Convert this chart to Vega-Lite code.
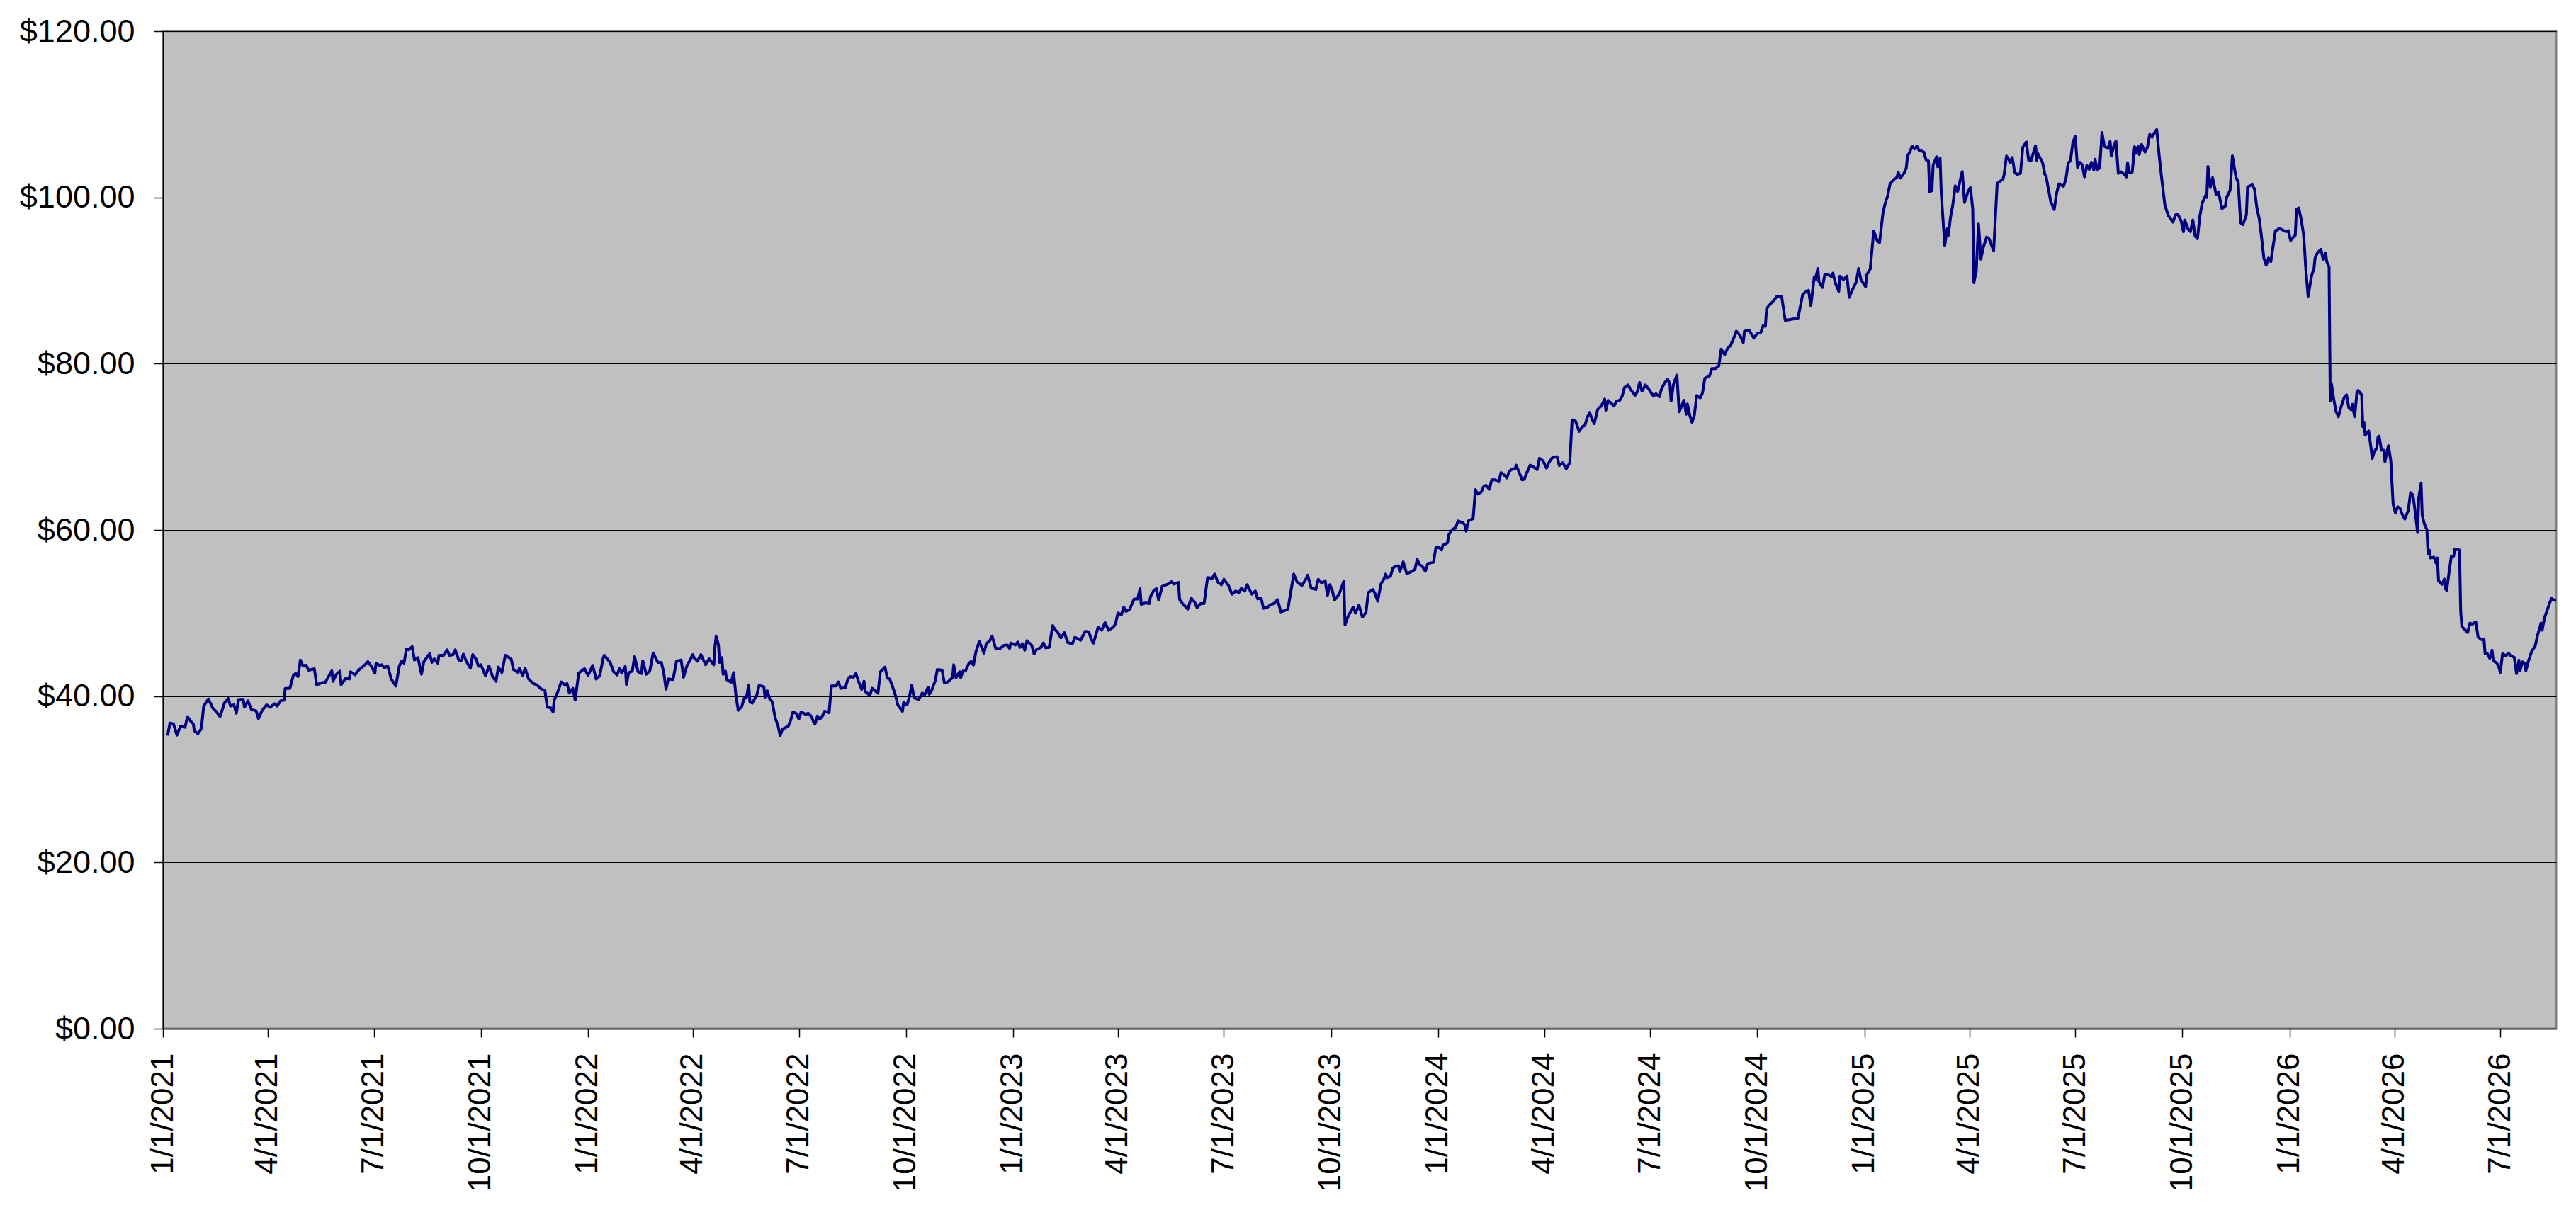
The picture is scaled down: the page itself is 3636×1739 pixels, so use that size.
{
"$schema":"https://vega.github.io/schema/vega-lite/v6.json",
"width":3378,"height":1408,
"autosize":{"type":"none"},
"padding":{"left":230,"top":44,"right":28,"bottom":287},
"background":"white",
"config":{"view":{"fill":"#C0C0C0","stroke":"#808080","strokeWidth":3},"font":"Liberation Sans"},
"data":{"values":[
{"d":"2021-01-05","v":35.25},{"d":"2021-01-07","v":36.76},{"d":"2021-01-10","v":36.68},{"d":"2021-01-13","v":35.31},{"d":"2021-01-16","v":36.39},{"d":"2021-01-20","v":36.25},{"d":"2021-01-22","v":37.53},{"d":"2021-01-25","v":36.96},{"d":"2021-01-27","v":36.68},{"d":"2021-01-28","v":35.82},{"d":"2021-01-31","v":35.48},
{"d":"2021-02-03","v":36.11},{"d":"2021-02-05","v":38.81},{"d":"2021-02-09","v":39.66},{"d":"2021-02-13","v":38.52},{"d":"2021-02-16","v":38.10},{"d":"2021-02-19","v":37.53},{"d":"2021-02-23","v":39.23},{"d":"2021-02-26","v":39.72},{"d":"2021-02-28","v":38.81},
{"d":"2021-03-03","v":38.95},{"d":"2021-03-05","v":37.95},{"d":"2021-03-07","v":39.60},{"d":"2021-03-11","v":39.60},{"d":"2021-03-12","v":38.66},{"d":"2021-03-15","v":39.43},{"d":"2021-03-18","v":38.38},{"d":"2021-03-22","v":38.24},{"d":"2021-03-24","v":37.30},{"d":"2021-03-27","v":38.24},{"d":"2021-03-31","v":38.95},
{"d":"2021-04-03","v":38.66},{"d":"2021-04-07","v":39.09},{"d":"2021-04-09","v":38.81},{"d":"2021-04-12","v":39.43},{"d":"2021-04-15","v":39.52},{"d":"2021-04-16","v":40.94},{"d":"2021-04-20","v":40.94},{"d":"2021-04-23","v":42.50},{"d":"2021-04-25","v":42.73},{"d":"2021-04-27","v":42.36},{"d":"2021-04-29","v":44.35},
{"d":"2021-05-01","v":43.69},{"d":"2021-05-04","v":43.72},{"d":"2021-05-06","v":43.13},{"d":"2021-05-11","v":43.30},{"d":"2021-05-13","v":41.36},{"d":"2021-05-18","v":41.65},{"d":"2021-05-20","v":41.59},{"d":"2021-05-23","v":42.30},{"d":"2021-05-26","v":43.07},{"d":"2021-05-27","v":41.79},{"d":"2021-05-30","v":42.64},
{"d":"2021-06-02","v":43.01},{"d":"2021-06-03","v":41.36},{"d":"2021-06-07","v":42.16},{"d":"2021-06-10","v":42.07},{"d":"2021-06-11","v":42.93},{"d":"2021-06-15","v":42.56},{"d":"2021-06-18","v":43.13},{"d":"2021-06-20","v":43.35},{"d":"2021-06-24","v":43.86},{"d":"2021-06-26","v":44.15},{"d":"2021-06-29","v":43.58},
{"d":"2021-07-02","v":42.78},{"d":"2021-07-03","v":43.98},{"d":"2021-07-06","v":43.69},{"d":"2021-07-08","v":43.78},{"d":"2021-07-10","v":43.41},{"d":"2021-07-13","v":43.64},{"d":"2021-07-16","v":42.07},{"d":"2021-07-20","v":41.22},{"d":"2021-07-23","v":43.64},{"d":"2021-07-25","v":44.21},{"d":"2021-07-27","v":43.98},{"d":"2021-07-29","v":45.63},{"d":"2021-07-31","v":45.57},
{"d":"2021-08-03","v":45.97},{"d":"2021-08-05","v":44.35},{"d":"2021-08-08","v":44.63},{"d":"2021-08-11","v":42.64},{"d":"2021-08-13","v":44.15},{"d":"2021-08-18","v":45.12},{"d":"2021-08-20","v":44.06},{"d":"2021-08-22","v":44.49},{"d":"2021-08-25","v":43.98},{"d":"2021-08-26","v":44.92},{"d":"2021-08-30","v":44.92},
{"d":"2021-09-02","v":45.57},{"d":"2021-09-04","v":44.92},{"d":"2021-09-07","v":44.97},{"d":"2021-09-09","v":45.57},{"d":"2021-09-12","v":44.35},{"d":"2021-09-14","v":44.26},{"d":"2021-09-16","v":45.06},{"d":"2021-09-18","v":44.35},{"d":"2021-09-22","v":43.35},{"d":"2021-09-24","v":45.00},{"d":"2021-09-27","v":44.43},{"d":"2021-09-29","v":43.58},
{"d":"2021-10-01","v":43.78},{"d":"2021-10-05","v":42.44},{"d":"2021-10-08","v":43.64},{"d":"2021-10-11","v":42.36},{"d":"2021-10-14","v":41.79},{"d":"2021-10-16","v":43.50},{"d":"2021-10-19","v":42.84},{"d":"2021-10-22","v":44.92},{"d":"2021-10-27","v":44.49},{"d":"2021-10-29","v":43.21},
{"d":"2021-11-02","v":42.84},{"d":"2021-11-03","v":43.35},{"d":"2021-11-06","v":42.50},{"d":"2021-11-08","v":43.35},{"d":"2021-11-11","v":42.07},{"d":"2021-11-15","v":41.51},{"d":"2021-11-18","v":41.36},{"d":"2021-11-21","v":40.94},{"d":"2021-11-25","v":40.65},{"d":"2021-11-27","v":38.66},{"d":"2021-11-30","v":38.58},
{"d":"2021-12-02","v":38.10},{"d":"2021-12-03","v":39.52},{"d":"2021-12-06","v":40.51},{"d":"2021-12-09","v":41.71},{"d":"2021-12-12","v":41.36},{"d":"2021-12-14","v":41.51},{"d":"2021-12-16","v":40.37},{"d":"2021-12-19","v":40.94},{"d":"2021-12-21","v":39.52},{"d":"2021-12-24","v":42.78},{"d":"2021-12-29","v":43.30},
{"d":"2022-01-01","v":42.50},{"d":"2022-01-05","v":43.69},{"d":"2022-01-08","v":42.07},{"d":"2022-01-11","v":42.44},{"d":"2022-01-14","v":44.55},{"d":"2022-01-15","v":44.92},{"d":"2022-01-20","v":44.06},{"d":"2022-01-23","v":42.93},{"d":"2022-01-26","v":42.56},{"d":"2022-01-28","v":43.30},{"d":"2022-01-30","v":42.78},
{"d":"2022-02-02","v":43.58},{"d":"2022-02-03","v":41.42},{"d":"2022-02-05","v":42.84},{"d":"2022-02-08","v":43.01},{"d":"2022-02-10","v":44.77},{"d":"2022-02-13","v":42.93},{"d":"2022-02-16","v":42.73},{"d":"2022-02-17","v":44.26},{"d":"2022-02-20","v":42.64},{"d":"2022-02-23","v":43.01},{"d":"2022-02-26","v":45.20},
{"d":"2022-03-02","v":44.06},{"d":"2022-03-05","v":44.06},{"d":"2022-03-07","v":42.84},{"d":"2022-03-09","v":40.85},{"d":"2022-03-11","v":42.07},{"d":"2022-03-15","v":41.99},{"d":"2022-03-18","v":44.21},{"d":"2022-03-22","v":44.35},{"d":"2022-03-24","v":42.27},{"d":"2022-03-27","v":43.69},{"d":"2022-03-30","v":44.43},
{"d":"2022-04-01","v":45.00},{"d":"2022-04-02","v":44.63},{"d":"2022-04-05","v":44.21},{"d":"2022-04-08","v":45.00},{"d":"2022-04-12","v":43.78},{"d":"2022-04-15","v":44.49},{"d":"2022-04-19","v":43.78},{"d":"2022-04-20","v":45.91},{"d":"2022-04-21","v":47.19},{"d":"2022-04-23","v":46.19},{"d":"2022-04-24","v":44.06},{"d":"2022-04-26","v":44.63},{"d":"2022-04-27","v":42.64},{"d":"2022-04-29","v":43.01},{"d":"2022-04-30","v":41.99},
{"d":"2022-05-04","v":41.65},{"d":"2022-05-06","v":42.84},{"d":"2022-05-08","v":40.09},{"d":"2022-05-10","v":38.29},{"d":"2022-05-13","v":38.75},{"d":"2022-05-15","v":39.72},{"d":"2022-05-17","v":39.80},{"d":"2022-05-19","v":41.36},{"d":"2022-05-20","v":39.32},{"d":"2022-05-22","v":39.15},{"d":"2022-05-26","v":40.17},{"d":"2022-05-28","v":41.31},
{"d":"2022-06-01","v":41.14},{"d":"2022-06-02","v":39.89},{"d":"2022-06-04","v":40.65},{"d":"2022-06-06","v":39.66},{"d":"2022-06-08","v":39.37},{"d":"2022-06-11","v":37.24},{"d":"2022-06-13","v":36.53},{"d":"2022-06-15","v":35.25},{"d":"2022-06-17","v":36.02},{"d":"2022-06-22","v":36.39},{"d":"2022-06-24","v":37.10},{"d":"2022-06-26","v":38.10},{"d":"2022-06-29","v":37.90},
{"d":"2022-07-01","v":37.24},{"d":"2022-07-03","v":38.10},{"d":"2022-07-07","v":37.81},{"d":"2022-07-09","v":37.95},{"d":"2022-07-12","v":37.53},{"d":"2022-07-14","v":36.76},{"d":"2022-07-15","v":36.68},{"d":"2022-07-17","v":37.61},{"d":"2022-07-19","v":37.24},{"d":"2022-07-21","v":37.53},{"d":"2022-07-23","v":38.18},{"d":"2022-07-27","v":38.01},{"d":"2022-07-29","v":41.22},
{"d":"2022-08-02","v":41.22},{"d":"2022-08-04","v":41.71},{"d":"2022-08-06","v":40.94},{"d":"2022-08-10","v":41.02},{"d":"2022-08-12","v":41.99},{"d":"2022-08-14","v":42.36},{"d":"2022-08-17","v":42.27},{"d":"2022-08-19","v":42.73},{"d":"2022-08-21","v":41.88},{"d":"2022-08-24","v":40.80},{"d":"2022-08-26","v":41.79},{"d":"2022-08-27","v":40.57},{"d":"2022-08-31","v":40.09},
{"d":"2022-09-02","v":40.94},{"d":"2022-09-07","v":40.37},{"d":"2022-09-09","v":42.93},{"d":"2022-09-13","v":43.50},{"d":"2022-09-15","v":42.16},{"d":"2022-09-17","v":42.07},{"d":"2022-09-19","v":41.36},{"d":"2022-09-22","v":40.09},{"d":"2022-09-24","v":38.95},{"d":"2022-09-28","v":38.18},{"d":"2022-09-29","v":39.23},
{"d":"2022-10-02","v":38.95},{"d":"2022-10-04","v":39.94},{"d":"2022-10-06","v":41.31},{"d":"2022-10-08","v":39.80},{"d":"2022-10-12","v":39.60},{"d":"2022-10-15","v":40.37},{"d":"2022-10-17","v":40.17},{"d":"2022-10-20","v":41.08},{"d":"2022-10-21","v":40.23},{"d":"2022-10-23","v":40.65},{"d":"2022-10-26","v":41.79},{"d":"2022-10-28","v":43.21},
{"d":"2022-11-01","v":43.13},{"d":"2022-11-03","v":41.59},{"d":"2022-11-06","v":41.71},{"d":"2022-11-08","v":41.99},{"d":"2022-11-10","v":42.22},{"d":"2022-11-11","v":43.78},{"d":"2022-11-13","v":42.22},{"d":"2022-11-16","v":42.93},{"d":"2022-11-17","v":42.22},{"d":"2022-11-19","v":43.01},{"d":"2022-11-21","v":43.01},{"d":"2022-11-24","v":43.92},{"d":"2022-11-26","v":44.21},{"d":"2022-11-28","v":43.75},{"d":"2022-11-30","v":45.31},
{"d":"2022-12-03","v":46.59},{"d":"2022-12-05","v":45.88},{"d":"2022-12-07","v":45.17},{"d":"2022-12-09","v":46.31},{"d":"2022-12-12","v":46.68},{"d":"2022-12-14","v":47.24},{"d":"2022-12-17","v":45.74},{"d":"2022-12-21","v":45.74},{"d":"2022-12-24","v":46.11},{"d":"2022-12-27","v":46.16},{"d":"2022-12-29","v":45.74},{"d":"2022-12-30","v":46.39},
{"d":"2023-01-03","v":46.16},{"d":"2023-01-05","v":46.51},{"d":"2023-01-07","v":45.88},{"d":"2023-01-09","v":46.31},{"d":"2023-01-11","v":45.54},{"d":"2023-01-13","v":46.68},{"d":"2023-01-17","v":46.11},{"d":"2023-01-19","v":45.09},{"d":"2023-01-21","v":45.60},{"d":"2023-01-25","v":45.88},{"d":"2023-01-27","v":46.39},{"d":"2023-01-29","v":45.82},
{"d":"2023-02-01","v":45.88},{"d":"2023-02-04","v":48.49},{"d":"2023-02-06","v":48.01},{"d":"2023-02-08","v":47.73},{"d":"2023-02-11","v":47.02},{"d":"2023-02-14","v":47.64},{"d":"2023-02-17","v":46.45},{"d":"2023-02-21","v":46.31},{"d":"2023-02-23","v":47.07},{"d":"2023-02-25","v":46.96},{"d":"2023-02-28","v":46.73},
{"d":"2023-03-04","v":47.81},{"d":"2023-03-07","v":47.73},{"d":"2023-03-09","v":46.88},{"d":"2023-03-11","v":46.39},{"d":"2023-03-15","v":48.30},{"d":"2023-03-18","v":47.93},{"d":"2023-03-21","v":48.86},{"d":"2023-03-24","v":47.93},{"d":"2023-03-28","v":48.30},{"d":"2023-03-30","v":48.72},
{"d":"2023-04-01","v":50.00},{"d":"2023-04-04","v":49.80},{"d":"2023-04-06","v":50.71},{"d":"2023-04-08","v":50.20},{"d":"2023-04-11","v":50.43},{"d":"2023-04-15","v":51.70},{"d":"2023-04-18","v":51.70},{"d":"2023-04-20","v":52.93},{"d":"2023-04-21","v":51.05},{"d":"2023-04-25","v":51.22},{"d":"2023-04-28","v":51.14},{"d":"2023-04-29","v":51.99},
{"d":"2023-05-02","v":52.76},{"d":"2023-05-04","v":52.93},{"d":"2023-05-06","v":51.56},{"d":"2023-05-09","v":53.21},{"d":"2023-05-14","v":53.49},{"d":"2023-05-17","v":53.78},{"d":"2023-05-19","v":53.49},{"d":"2023-05-23","v":53.69},{"d":"2023-05-24","v":51.62},{"d":"2023-05-27","v":51.05},{"d":"2023-05-31","v":50.48},
{"d":"2023-06-03","v":51.79},{"d":"2023-06-06","v":51.28},{"d":"2023-06-08","v":50.65},{"d":"2023-06-11","v":51.14},{"d":"2023-06-14","v":51.14},{"d":"2023-06-17","v":54.26},{"d":"2023-06-21","v":54.18},{"d":"2023-06-23","v":54.69},{"d":"2023-06-26","v":53.69},{"d":"2023-06-29","v":53.41},
{"d":"2023-07-01","v":54.06},{"d":"2023-07-05","v":53.32},{"d":"2023-07-08","v":52.27},{"d":"2023-07-11","v":52.64},{"d":"2023-07-14","v":52.47},{"d":"2023-07-16","v":52.98},{"d":"2023-07-19","v":52.64},{"d":"2023-07-21","v":53.41},{"d":"2023-07-25","v":52.27},{"d":"2023-07-28","v":52.64},{"d":"2023-07-30","v":51.70},
{"d":"2023-08-02","v":51.79},{"d":"2023-08-04","v":50.57},{"d":"2023-08-07","v":50.65},{"d":"2023-08-10","v":51.00},{"d":"2023-08-13","v":51.14},{"d":"2023-08-16","v":51.62},{"d":"2023-08-19","v":50.14},{"d":"2023-08-22","v":50.28},{"d":"2023-08-25","v":50.48},{"d":"2023-08-30","v":54.69},
{"d":"2023-09-02","v":53.69},{"d":"2023-09-06","v":53.32},{"d":"2023-09-09","v":53.98},{"d":"2023-09-11","v":54.55},{"d":"2023-09-14","v":52.98},{"d":"2023-09-18","v":52.84},{"d":"2023-09-20","v":54.06},{"d":"2023-09-23","v":53.61},{"d":"2023-09-26","v":53.89},{"d":"2023-09-28","v":52.13},{"d":"2023-09-30","v":53.41},
{"d":"2023-10-02","v":52.76},{"d":"2023-10-04","v":51.56},{"d":"2023-10-08","v":52.27},{"d":"2023-10-12","v":53.84},{"d":"2023-10-13","v":48.58},{"d":"2023-10-16","v":49.72},{"d":"2023-10-20","v":50.71},{"d":"2023-10-22","v":50.00},{"d":"2023-10-25","v":50.94},{"d":"2023-10-28","v":49.51},{"d":"2023-10-31","v":50.08},
{"d":"2023-11-02","v":52.47},{"d":"2023-11-06","v":52.84},{"d":"2023-11-08","v":52.27},{"d":"2023-11-10","v":51.42},{"d":"2023-11-13","v":53.55},{"d":"2023-11-15","v":53.98},{"d":"2023-11-17","v":54.69},{"d":"2023-11-18","v":54.26},{"d":"2023-11-21","v":54.40},{"d":"2023-11-23","v":55.40},{"d":"2023-11-26","v":55.68},{"d":"2023-11-28","v":55.68},{"d":"2023-11-29","v":54.97},
{"d":"2023-12-02","v":56.16},{"d":"2023-12-05","v":54.74},{"d":"2023-12-08","v":54.91},{"d":"2023-12-12","v":55.25},{"d":"2023-12-14","v":56.45},{"d":"2023-12-16","v":55.82},{"d":"2023-12-18","v":55.68},{"d":"2023-12-21","v":55.03},{"d":"2023-12-23","v":55.96},{"d":"2023-12-28","v":56.11},{"d":"2023-12-30","v":57.87},
{"d":"2024-01-02","v":57.87},{"d":"2024-01-04","v":57.58},{"d":"2024-01-05","v":58.15},{"d":"2024-01-09","v":58.44},{"d":"2024-01-10","v":59.37},{"d":"2024-01-12","v":59.86},{"d":"2024-01-14","v":60.14},{"d":"2024-01-16","v":60.23},{"d":"2024-01-18","v":61.08},{"d":"2024-01-22","v":60.88},{"d":"2024-01-24","v":60.60},{"d":"2024-01-25","v":59.86},{"d":"2024-01-27","v":61.08},{"d":"2024-01-31","v":61.36},
{"d":"2024-02-02","v":64.85},{"d":"2024-02-04","v":64.32},{"d":"2024-02-07","v":64.56},{"d":"2024-02-09","v":65.21},{"d":"2024-02-11","v":65.38},{"d":"2024-02-14","v":64.91},{"d":"2024-02-16","v":66.03},{"d":"2024-02-19","v":66.03},{"d":"2024-02-22","v":65.79},{"d":"2024-02-24","v":66.91},{"d":"2024-02-27","v":66.56},{"d":"2024-02-29","v":66.26},
{"d":"2024-03-02","v":67.06},{"d":"2024-03-05","v":67.35},{"d":"2024-03-07","v":67.35},{"d":"2024-03-08","v":67.79},{"d":"2024-03-11","v":66.76},{"d":"2024-03-13","v":66.03},{"d":"2024-03-15","v":66.09},{"d":"2024-03-17","v":66.85},{"d":"2024-03-20","v":67.79},{"d":"2024-03-23","v":67.56},{"d":"2024-03-26","v":67.26},{"d":"2024-03-28","v":68.62},{"d":"2024-03-31","v":68.32},
{"d":"2024-04-03","v":67.44},{"d":"2024-04-05","v":68.09},{"d":"2024-04-08","v":68.68},{"d":"2024-04-12","v":68.82},{"d":"2024-04-14","v":67.74},{"d":"2024-04-17","v":68.09},{"d":"2024-04-20","v":67.35},{"d":"2024-04-23","v":68.09},{"d":"2024-04-25","v":73.24},{"d":"2024-04-28","v":73.09},
{"d":"2024-05-01","v":71.85},{"d":"2024-05-04","v":72.44},{"d":"2024-05-06","v":72.56},{"d":"2024-05-08","v":73.53},{"d":"2024-05-10","v":74.12},{"d":"2024-05-12","v":73.38},{"d":"2024-05-14","v":72.79},{"d":"2024-05-17","v":74.50},{"d":"2024-05-20","v":74.91},{"d":"2024-05-23","v":75.74},{"d":"2024-05-24","v":74.41},{"d":"2024-05-26","v":75.59},{"d":"2024-05-31","v":74.91},
{"d":"2024-06-02","v":75.50},{"d":"2024-06-05","v":75.59},{"d":"2024-06-07","v":76.09},{"d":"2024-06-09","v":77.15},{"d":"2024-06-12","v":77.44},{"d":"2024-06-15","v":76.76},{"d":"2024-06-18","v":76.18},{"d":"2024-06-20","v":76.62},{"d":"2024-06-22","v":77.74},{"d":"2024-06-24","v":76.68},{"d":"2024-06-27","v":77.44},{"d":"2024-06-30","v":76.91},
{"d":"2024-07-02","v":76.47},{"d":"2024-07-04","v":76.09},{"d":"2024-07-06","v":76.38},{"d":"2024-07-09","v":76.03},{"d":"2024-07-11","v":77.06},{"d":"2024-07-14","v":77.79},{"d":"2024-07-16","v":78.15},{"d":"2024-07-18","v":77.56},{"d":"2024-07-19","v":75.50},{"d":"2024-07-21","v":77.50},{"d":"2024-07-24","v":78.62},{"d":"2024-07-26","v":74.21},{"d":"2024-07-30","v":75.59},
{"d":"2024-08-01","v":73.91},{"d":"2024-08-02","v":75.15},{"d":"2024-08-04","v":73.82},{"d":"2024-08-06","v":72.94},{"d":"2024-08-08","v":73.82},{"d":"2024-08-10","v":76.18},{"d":"2024-08-13","v":75.88},{"d":"2024-08-15","v":76.47},{"d":"2024-08-17","v":78.24},{"d":"2024-08-21","v":78.53},{"d":"2024-08-23","v":79.41},{"d":"2024-08-26","v":79.41},{"d":"2024-08-29","v":79.71},{"d":"2024-08-31","v":81.76},
{"d":"2024-09-03","v":81.09},{"d":"2024-09-06","v":81.97},{"d":"2024-09-08","v":82.15},{"d":"2024-09-11","v":83.15},{"d":"2024-09-13","v":83.91},{"d":"2024-09-16","v":83.44},{"d":"2024-09-19","v":82.56},{"d":"2024-09-20","v":83.91},{"d":"2024-09-24","v":84.03},{"d":"2024-09-28","v":83.09},
{"d":"2024-10-01","v":83.62},{"d":"2024-10-04","v":83.74},{"d":"2024-10-06","v":84.56},{"d":"2024-10-08","v":84.50},{"d":"2024-10-09","v":86.62},{"d":"2024-10-12","v":87.15},{"d":"2024-10-15","v":87.56},{"d":"2024-10-18","v":88.12},{"d":"2024-10-22","v":88.04},{"d":"2024-10-25","v":85.20},
{"d":"2024-11-05","v":85.48},{"d":"2024-11-09","v":88.32},{"d":"2024-11-12","v":88.69},{"d":"2024-11-14","v":88.83},{"d":"2024-11-16","v":86.98},{"d":"2024-11-19","v":90.48},{"d":"2024-11-20","v":90.11},{"d":"2024-11-22","v":91.45},{"d":"2024-11-23","v":89.83},{"d":"2024-11-26","v":89.17},{"d":"2024-11-28","v":90.76},
{"d":"2024-12-01","v":90.68},{"d":"2024-12-04","v":90.48},{"d":"2024-12-05","v":90.88},{"d":"2024-12-07","v":89.74},{"d":"2024-12-10","v":88.69},{"d":"2024-12-11","v":90.54},{"d":"2024-12-14","v":90.11},{"d":"2024-12-17","v":90.54},{"d":"2024-12-19","v":87.98},{"d":"2024-12-22","v":88.97},{"d":"2024-12-25","v":89.83},{"d":"2024-12-27","v":91.45},{"d":"2024-12-29","v":90.11},
{"d":"2025-01-02","v":89.26},{"d":"2025-01-03","v":90.68},{"d":"2025-01-06","v":91.39},{"d":"2025-01-09","v":95.94},{"d":"2025-01-12","v":94.80},{"d":"2025-01-14","v":94.57},{"d":"2025-01-17","v":98.21},{"d":"2025-01-19","v":99.35},{"d":"2025-01-21","v":100.20},{"d":"2025-01-23","v":101.62},{"d":"2025-01-26","v":102.13},{"d":"2025-01-29","v":102.42},{"d":"2025-01-30","v":103.04},
{"d":"2025-02-01","v":102.33},{"d":"2025-02-04","v":102.90},{"d":"2025-02-06","v":103.55},{"d":"2025-02-07","v":104.97},{"d":"2025-02-09","v":105.46},{"d":"2025-02-11","v":106.17},{"d":"2025-02-13","v":105.83},{"d":"2025-02-15","v":106.17},{"d":"2025-02-17","v":105.66},{"d":"2025-02-19","v":105.60},{"d":"2025-02-21","v":105.46},{"d":"2025-02-23","v":104.52},{"d":"2025-02-25","v":104.40},{"d":"2025-02-26","v":100.71},{"d":"2025-02-28","v":100.82},
{"d":"2025-03-01","v":103.89},{"d":"2025-03-04","v":104.89},{"d":"2025-03-05","v":103.67},{"d":"2025-03-07","v":104.75},{"d":"2025-03-08","v":100.48},{"d":"2025-03-11","v":94.23},{"d":"2025-03-13","v":96.22},{"d":"2025-03-14","v":95.42},{"d":"2025-03-16","v":97.64},{"d":"2025-03-18","v":99.20},{"d":"2025-03-20","v":101.39},{"d":"2025-03-22","v":100.71},{"d":"2025-03-26","v":103.10},{"d":"2025-03-28","v":99.40},{"d":"2025-03-31","v":100.71},
{"d":"2025-04-02","v":101.19},{"d":"2025-04-04","v":98.64},{"d":"2025-04-05","v":89.74},{"d":"2025-04-07","v":91.11},{"d":"2025-04-09","v":96.79},{"d":"2025-04-11","v":92.58},{"d":"2025-04-13","v":93.95},{"d":"2025-04-16","v":95.23},{"d":"2025-04-18","v":95.03},{"d":"2025-04-22","v":93.61},{"d":"2025-04-25","v":101.68},{"d":"2025-04-27","v":101.90},{"d":"2025-04-30","v":102.19},
{"d":"2025-05-01","v":102.76},{"d":"2025-05-03","v":104.97},{"d":"2025-05-05","v":104.60},{"d":"2025-05-06","v":104.18},{"d":"2025-05-08","v":104.80},{"d":"2025-05-10","v":103.04},{"d":"2025-05-12","v":102.76},{"d":"2025-05-15","v":102.90},{"d":"2025-05-17","v":106.02},{"d":"2025-05-20","v":106.68},{"d":"2025-05-22","v":104.52},{"d":"2025-05-24","v":104.40},{"d":"2025-05-28","v":106.22},{"d":"2025-05-29","v":104.46},{"d":"2025-05-30","v":105.26},
{"d":"2025-06-03","v":104.18},{"d":"2025-06-05","v":102.76},{"d":"2025-06-06","v":102.53},{"d":"2025-06-10","v":99.49},{"d":"2025-06-13","v":98.55},{"d":"2025-06-15","v":100.48},{"d":"2025-06-17","v":101.62},{"d":"2025-06-21","v":101.34},{"d":"2025-06-23","v":102.19},{"d":"2025-06-25","v":104.12},{"d":"2025-06-27","v":104.46},{"d":"2025-06-29","v":106.59},
{"d":"2025-07-01","v":107.36},{"d":"2025-07-03","v":103.61},{"d":"2025-07-05","v":104.23},{"d":"2025-07-07","v":103.95},{"d":"2025-07-09","v":102.47},{"d":"2025-07-11","v":103.84},{"d":"2025-07-13","v":103.38},{"d":"2025-07-15","v":104.23},{"d":"2025-07-17","v":103.27},{"d":"2025-07-18","v":104.60},{"d":"2025-07-20","v":103.32},{"d":"2025-07-22","v":103.55},{"d":"2025-07-24","v":107.81},{"d":"2025-07-26","v":106.17},{"d":"2025-07-29","v":105.88},{"d":"2025-07-31","v":106.74},
{"d":"2025-08-01","v":104.97},{"d":"2025-08-03","v":106.11},{"d":"2025-08-05","v":106.79},{"d":"2025-08-07","v":102.90},{"d":"2025-08-09","v":103.10},{"d":"2025-08-12","v":102.81},{"d":"2025-08-14","v":102.47},{"d":"2025-08-15","v":104.18},{"d":"2025-08-16","v":103.04},{"d":"2025-08-19","v":103.04},{"d":"2025-08-21","v":106.11},{"d":"2025-08-22","v":105.31},{"d":"2025-08-24","v":106.17},{"d":"2025-08-25","v":105.17},{"d":"2025-08-27","v":106.39},{"d":"2025-08-30","v":105.46},
{"d":"2025-09-01","v":106.02},{"d":"2025-09-03","v":107.59},{"d":"2025-09-05","v":107.25},{"d":"2025-09-07","v":107.73},{"d":"2025-09-09","v":108.16},{"d":"2025-09-11","v":105.17},{"d":"2025-09-13","v":102.61},{"d":"2025-09-16","v":99.07},{"d":"2025-09-19","v":97.79},{"d":"2025-09-23","v":97.03},{"d":"2025-09-25","v":97.88},{"d":"2025-09-27","v":98.01},{"d":"2025-09-30","v":97.16},
{"d":"2025-10-02","v":95.88},{"d":"2025-10-03","v":97.28},{"d":"2025-10-06","v":96.18},{"d":"2025-10-08","v":95.88},{"d":"2025-10-10","v":97.28},{"d":"2025-10-12","v":95.33},{"d":"2025-10-14","v":95.04},{"d":"2025-10-16","v":97.71},{"d":"2025-10-18","v":99.28},{"d":"2025-10-21","v":100.25},{"d":"2025-10-22","v":100.00},{"d":"2025-10-23","v":103.73},{"d":"2025-10-25","v":101.19},{"d":"2025-10-27","v":102.38},{"d":"2025-10-30","v":100.34},
{"d":"2025-11-01","v":100.68},{"d":"2025-11-04","v":98.64},{"d":"2025-11-07","v":98.98},{"d":"2025-11-08","v":100.00},{"d":"2025-11-11","v":100.85},{"d":"2025-11-13","v":105.00},{"d":"2025-11-16","v":102.46},{"d":"2025-11-18","v":101.82},{"d":"2025-11-20","v":96.95},{"d":"2025-11-22","v":96.73},{"d":"2025-11-25","v":97.88},{"d":"2025-11-26","v":101.27},{"d":"2025-11-28","v":101.40},{"d":"2025-11-30","v":101.53},
{"d":"2025-12-02","v":100.98},{"d":"2025-12-04","v":98.73},{"d":"2025-12-06","v":97.45},{"d":"2025-12-08","v":95.25},{"d":"2025-12-10","v":92.70},{"d":"2025-12-12","v":91.85},{"d":"2025-12-14","v":92.70},{"d":"2025-12-16","v":92.28},{"d":"2025-12-18","v":94.19},{"d":"2025-12-20","v":96.01},{"d":"2025-12-22","v":96.10},{"d":"2025-12-23","v":96.31},{"d":"2025-12-26","v":96.10},{"d":"2025-12-29","v":95.88},{"d":"2025-12-31","v":96.01},
{"d":"2026-01-02","v":94.82},{"d":"2026-01-04","v":95.16},{"d":"2026-01-06","v":95.46},{"d":"2026-01-07","v":98.56},{"d":"2026-01-09","v":98.73},{"d":"2026-01-11","v":97.37},{"d":"2026-01-13","v":95.67},{"d":"2026-01-14","v":93.76},{"d":"2026-01-15","v":91.43},{"d":"2026-01-17","v":88.12},{"d":"2026-01-20","v":90.58},{"d":"2026-01-22","v":91.43},{"d":"2026-01-23","v":92.70},{"d":"2026-01-25","v":93.34},{"d":"2026-01-28","v":93.76},{"d":"2026-01-30","v":92.49},
{"d":"2026-02-01","v":93.34},{"d":"2026-02-02","v":92.28},{"d":"2026-02-04","v":91.64},{"d":"2026-02-05","v":75.52},{"d":"2026-02-06","v":77.64},{"d":"2026-02-08","v":75.73},{"d":"2026-02-10","v":74.25},{"d":"2026-02-12","v":73.61},{"d":"2026-02-14","v":74.67},{"d":"2026-02-17","v":75.94},{"d":"2026-02-19","v":76.24},{"d":"2026-02-21","v":74.67},{"d":"2026-02-23","v":74.46},{"d":"2026-02-24","v":75.10},{"d":"2026-02-26","v":73.61},{"d":"2026-02-28","v":76.67},
{"d":"2026-03-01","v":76.79},{"d":"2026-03-04","v":76.24},{"d":"2026-03-05","v":72.42},{"d":"2026-03-06","v":72.97},{"d":"2026-03-07","v":71.40},{"d":"2026-03-09","v":71.70},{"d":"2026-03-10","v":71.91},{"d":"2026-03-12","v":69.88},{"d":"2026-03-13","v":68.60},{"d":"2026-03-15","v":69.45},{"d":"2026-03-17","v":69.88},{"d":"2026-03-18","v":71.15},{"d":"2026-03-19","v":71.28},{"d":"2026-03-21","v":69.58},{"d":"2026-03-23","v":69.58},{"d":"2026-03-24","v":68.18},{"d":"2026-03-26","v":69.58},{"d":"2026-03-27","v":70.13},{"d":"2026-03-29","v":68.31},{"d":"2026-03-31","v":63.09},
{"d":"2026-04-02","v":62.07},{"d":"2026-04-04","v":62.79},{"d":"2026-04-06","v":62.58},{"d":"2026-04-08","v":61.82},{"d":"2026-04-10","v":61.31},{"d":"2026-04-13","v":62.37},{"d":"2026-04-15","v":64.49},{"d":"2026-04-17","v":64.19},{"d":"2026-04-19","v":62.16},{"d":"2026-04-21","v":59.69},{"d":"2026-04-22","v":63.85},{"d":"2026-04-24","v":65.63},{"d":"2026-04-25","v":61.73},{"d":"2026-04-27","v":60.67},{"d":"2026-04-29","v":60.03},{"d":"2026-04-30","v":57.15},
{"d":"2026-05-01","v":57.57},{"d":"2026-05-02","v":56.64},{"d":"2026-05-05","v":56.72},{"d":"2026-05-07","v":56.00},{"d":"2026-05-08","v":56.64},{"d":"2026-05-09","v":53.88},{"d":"2026-05-12","v":53.46},{"d":"2026-05-14","v":54.09},{"d":"2026-05-15","v":52.91},{"d":"2026-05-16","v":52.74},{"d":"2026-05-18","v":54.86},{"d":"2026-05-20","v":56.85},{"d":"2026-05-22","v":56.85},{"d":"2026-05-23","v":57.70},{"d":"2026-05-27","v":57.57},{"d":"2026-05-28","v":50.28},{"d":"2026-05-29","v":48.37},
{"d":"2026-06-01","v":47.94},{"d":"2026-06-03","v":47.65},{"d":"2026-06-05","v":48.79},{"d":"2026-06-07","v":48.66},{"d":"2026-06-10","v":48.92},{"d":"2026-06-12","v":47.09},{"d":"2026-06-15","v":46.80},{"d":"2026-06-17","v":46.88},{"d":"2026-06-18","v":45.10},{"d":"2026-06-20","v":45.10},{"d":"2026-06-22","v":44.55},{"d":"2026-06-24","v":45.52},{"d":"2026-06-25","v":44.25},{"d":"2026-06-28","v":44.00},{"d":"2026-06-30","v":43.40},
{"d":"2026-07-01","v":42.85},{"d":"2026-07-03","v":45.10},{"d":"2026-07-06","v":44.85},{"d":"2026-07-08","v":45.18},{"d":"2026-07-10","v":44.85},{"d":"2026-07-13","v":44.68},{"d":"2026-07-15","v":42.72},{"d":"2026-07-17","v":44.34},{"d":"2026-07-18","v":43.07},{"d":"2026-07-20","v":44.13},{"d":"2026-07-22","v":43.92},{"d":"2026-07-23","v":43.07},{"d":"2026-07-25","v":44.13},{"d":"2026-07-28","v":45.40},{"d":"2026-07-31","v":46.03},
{"d":"2026-08-02","v":47.30},{"d":"2026-08-05","v":48.79},{"d":"2026-08-06","v":47.94},{"d":"2026-08-08","v":49.43},{"d":"2026-08-12","v":51.04},{"d":"2026-08-14","v":51.76},{"d":"2026-08-18","v":51.46}
]},
"mark":{"type":"line","color":"#000080","strokeWidth":4,"strokeJoin":"round","clip":true},
"encoding":{
"x":{"field":"d","type":"temporal",
"scale":{"type":"utc","nice":false,"domain":[{"year":2021,"month":1,"date":1,"utc":true},{"year":2026,"month":8,"date":18,"utc":true}]},
"axis":{"title":null,"grid":false,"labelExpr":"utcFormat(datum.value, '%-m/%-d/%Y')","labelAngle":270,"labelFontSize":44,"labelColor":"black","labelFont":"Liberation Sans","labelLimit":0,"tickSize":12,"tickColor":"black","tickWidth":1.5,"labelPadding":22,"domainColor":"black","domainWidth":1.5,"labelOverlap":false,"labelBound":false,"labelFlush":false,
"values":[{"year":2021,"month":1,"date":1,"utc":true},{"year":2021,"month":4,"date":1,"utc":true},{"year":2021,"month":7,"date":1,"utc":true},{"year":2021,"month":10,"date":1,"utc":true},{"year":2022,"month":1,"date":1,"utc":true},{"year":2022,"month":4,"date":1,"utc":true},{"year":2022,"month":7,"date":1,"utc":true},{"year":2022,"month":10,"date":1,"utc":true},{"year":2023,"month":1,"date":1,"utc":true},{"year":2023,"month":4,"date":1,"utc":true},{"year":2023,"month":7,"date":1,"utc":true},{"year":2023,"month":10,"date":1,"utc":true},{"year":2024,"month":1,"date":1,"utc":true},{"year":2024,"month":4,"date":1,"utc":true},{"year":2024,"month":7,"date":1,"utc":true},{"year":2024,"month":10,"date":1,"utc":true},{"year":2025,"month":1,"date":1,"utc":true},{"year":2025,"month":4,"date":1,"utc":true},{"year":2025,"month":7,"date":1,"utc":true},{"year":2025,"month":10,"date":1,"utc":true},{"year":2026,"month":1,"date":1,"utc":true},{"year":2026,"month":4,"date":1,"utc":true},{"year":2026,"month":7,"date":1,"utc":true}]}},
"y":{"field":"v","type":"quantitative",
"scale":{"domain":[0,120],"nice":false},
"axis":{"title":null,"values":[0,20,40,60,80,100,120],"format":"$.2f","labelFontSize":45,"labelColor":"black","labelFont":"Liberation Sans","labelLimit":0,"tickSize":13,"tickColor":"black","tickWidth":1.5,"labelPadding":27,"grid":true,"gridColor":"black","gridWidth":1.2,"domainColor":"black","domainWidth":1.5,"labelFlush":false,"labelBound":false}}
}
}
